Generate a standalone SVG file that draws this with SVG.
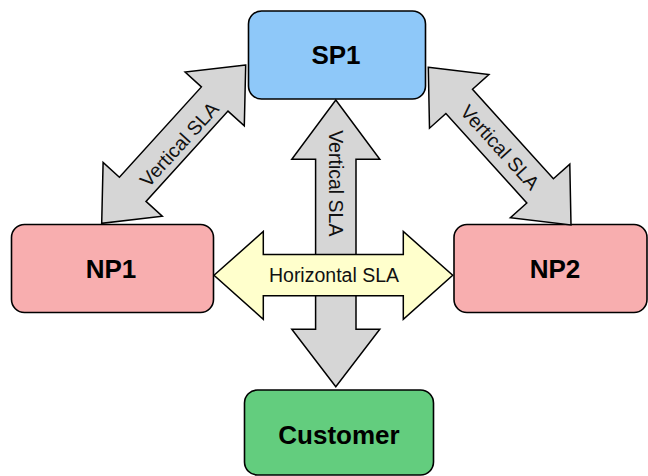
<svg xmlns="http://www.w3.org/2000/svg" width="648" height="476" viewBox="0 0 648 476">
<style>
.node rect{stroke:#000;stroke-width:1.6}
.lbl{font-family:"Liberation Sans",Arial,sans-serif;font-weight:bold;font-size:26px;text-anchor:middle;fill:#000}
.arr{stroke:#000;stroke-width:1.5;stroke-linejoin:miter}
.gray{fill:#D6D6D6}
.yel{fill:#FFFFCC}
.sla{font-family:"Liberation Sans",Arial,sans-serif;font-size:19.5px;text-anchor:middle;fill:#111}
</style>
<rect width="648" height="476" fill="#fff"/>
<g id="SP1" class="node"><rect x="248.5" y="11" width="177" height="88" rx="13" fill="#8EC8F9"/><text class="lbl" x="336" y="64">SP1</text></g>
<g id="NP1" class="node"><rect x="11.5" y="224.5" width="202" height="88" rx="13" fill="#F8AEAF"/><text class="lbl" x="111" y="278">NP1</text></g>
<g id="NP2" class="node"><rect x="454" y="224.5" width="193" height="88" rx="13" fill="#F8AEAF"/><text class="lbl" x="555" y="278">NP2</text></g>
<g id="Customer" class="node"><rect x="244.5" y="390" width="189" height="85" rx="13" fill="#63CD7E"/><text class="lbl" x="339" y="444">Customer</text></g>
<g id="connectors">
<g id="sla-sp1-np1">
<polygon class="arr gray" points="245.7,65 185.1,72.1 201.4,86.9 119.4,177.2 103.1,162.4 101.7,223.3 162.3,216.2 146,201.4 228,111.1 244.3,125.9"/>
<text class="sla" transform="translate(184.3,148.9) rotate(-47.65)">Vertical SLA</text>
</g>
<g id="sla-sp1-np2">
<polygon class="arr gray" points="428.3,67.3 488.9,74.6 472.5,89.3 553.4,178.8 569.8,164.1 571,225 510.4,217.7 526.8,203 445.9,113.5 429.5,128.2"/>
<text class="sla" transform="translate(495,152) rotate(47.86)">Vertical SLA</text>
</g>
<g id="sla-sp1-customer">
<polygon class="arr gray" points="335.8,100 379.8,159.3 356,159.3 356,329.3 379.8,329.3 335.8,386.7 291.8,329.3 315.6,329.3 315.6,159.3 291.8,159.3"/>
<text class="sla" transform="translate(329,183.3) rotate(90)">Vertical SLA</text>
</g>
<g id="sla-np1-np2">
<polygon class="arr yel" points="214,275.3 263.3,231.5 263.3,254.5 403.3,254.5 403.3,231.5 452.7,275.3 403.3,319.3 403.3,295.7 263.3,295.7 263.3,319.3"/>
<text class="sla" x="334" y="282">Horizontal SLA</text>
</g>
</g>
</svg>
